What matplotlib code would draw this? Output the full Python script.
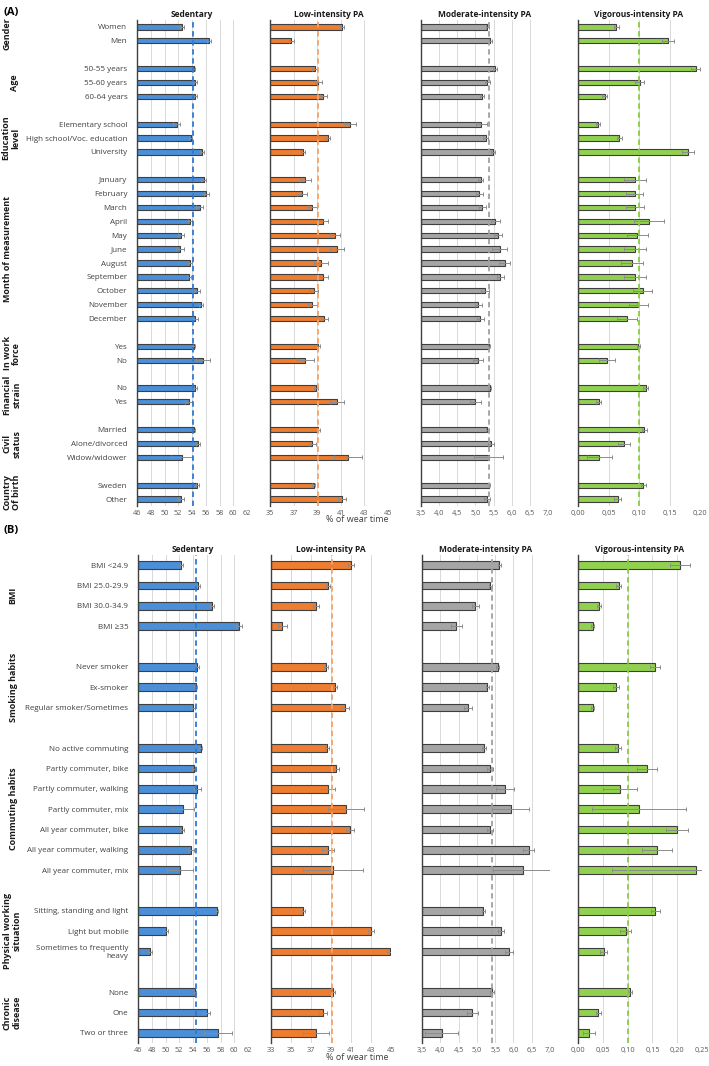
import matplotlib
matplotlib.use("Agg")
import matplotlib.pyplot as plt
import numpy as np

plt.rcParams['font.family'] = ['Open Sans', 'DejaVu Sans']

W, H = 709, 1066

# ---------------- panel A data ----------------
a_labels = ["Women", "Men", "",
            "50-55 years", "55-60 years", "60-64 years", "",
            "Elementary school", "High school/Voc. education", "University", "",
            "January", "February", "March", "April", "May", "June", "August",
            "September", "October", "November", "December", "",
            "Yes", "No", "",
            "No", "Yes", "",
            "Married", "Alone/divorced", "Widow/widower", "",
            "Sweden", "Other"]
a_groups = [("Gender", 0, 1, 7), ("Age", 3, 5, 15), ("Education\nlevel", 7, 9, 11),
            ("Month of measurement", 11, 21, 8), ("In work\nforce", 23, 24, 12),
            ("Financial\nstrain", 26, 27, 12), ("Civil\nstatus", 29, 31, 12),
            ("Country\nOf birth", 33, 34, 12)]

a_sed = [52.5, 56.5, None, 54.3, 54.4, 54.4, None, 51.8, 53.8, 55.5, None,
         55.7, 56.1, 55.1, 53.7, 52.4, 52.3, 53.7, 53.6, 54.7, 55.3, 54.5, None,
         54.3, 55.6, None, 54.5, 53.5, None, 54.3, 54.9, 52.5, None, 54.8, 52.4]
a_sed_err = [0.3, 0.3, 0, 0.2, 0.3, 0.3, 0, 0.5, 0.2, 0.3, 0,
             0.4, 0.4, 0.5, 0.3, 0.4, 0.6, 0.3, 0.3, 0.4, 0.3, 0.4, 0,
             0.15, 1.0, 0, 0.2, 0.5, 0, 0.2, 0.3, 1.5, 0, 0.2, 0.4]
a_low = [41.1, 36.8, None, 38.8, 39.1, 39.5, None, 41.8, 39.9, 37.8, None,
         38.0, 37.7, 38.6, 39.5, 40.5, 40.7, 39.3, 39.5, 38.7, 38.6, 39.6, None,
         39.1, 38.0, None, 38.9, 40.7, None, 39.1, 38.6, 41.6, None, 38.7, 41.1]
a_low_err = [0.2, 0.2, 0, 0.2, 0.3, 0.3, 0, 0.5, 0.2, 0.2, 0,
             0.5, 0.4, 0.4, 0.4, 0.4, 0.6, 0.6, 0.4, 0.4, 0.4, 0.3, 0,
             0.15, 0.7, 0, 0.15, 0.6, 0, 0.15, 0.3, 1.2, 0, 0.15, 0.3]
a_mod = [5.33, 5.40, None, 5.54, 5.33, 5.19, None, 5.16, 5.28, 5.49, None,
         5.14, 5.11, 5.19, 5.55, 5.62, 5.67, 5.81, 5.69, 5.26, 5.08, 5.13, None,
         5.38, 5.07, None, 5.40, 5.00, None, 5.33, 5.44, 5.37, None, 5.38, 5.33]
a_mod_err = [0.05, 0.05, 0, 0.06, 0.06, 0.06, 0, 0.15, 0.06, 0.05, 0,
             0.08, 0.1, 0.1, 0.12, 0.12, 0.2, 0.15, 0.1, 0.12, 0.1, 0.1, 0,
             0.03, 0.15, 0, 0.04, 0.15, 0, 0.04, 0.08, 0.4, 0, 0.03, 0.08]
a_vig = [0.063, 0.147, None, 0.193, 0.101, 0.044, None, 0.033, 0.068, 0.180, None,
         0.093, 0.093, 0.094, 0.116, 0.097, 0.093, 0.089, 0.093, 0.106, 0.099, 0.080, None,
         0.099, 0.047, None, 0.111, 0.034, None, 0.109, 0.075, 0.035, None, 0.107, 0.065]
a_vig_err = [0.004, 0.01, 0, 0.007, 0.008, 0.004, 0, 0.003, 0.004, 0.01, 0,
             0.018, 0.014, 0.015, 0.025, 0.017, 0.018, 0.018, 0.018, 0.016, 0.015, 0.016, 0,
             0.003, 0.013, 0, 0.004, 0.004, 0, 0.004, 0.01, 0.02, 0, 0.004, 0.006]

# ---------------- panel B data ----------------
b_labels = ["BMI <24.9", "BMI 25.0-29.9", "BMI 30.0-34.9", "BMI \u226535", "",
            "Never smoker", "Ex-smoker", "Regular smoker/Sometimes", "",
            "No active commuting", "Partly commuter, bike", "Partly commuter, walking",
            "Partly commuter, mix", "All year commuter, bike", "All year commuter, walking",
            "All year commuter, mix", "",
            "Sitting, standing and light", "Light but mobile",
            "Sometimes to frequently\nheavy", "",
            "None", "One", "Two or three"]
b_groups = [("BMI", 0, 3, 13), ("Smoking habits", 5, 7, 14),
            ("Commuting habits", 9, 15, 14), ("Physical working\nsituation", 17, 19, 12),
            ("Chronic\ndisease", 21, 23, 12)]

b_sed = [52.3, 54.8, 56.7, 60.7, None, 54.6, 54.4, 54.0, None,
         55.1, 54.1, 54.6, 52.5, 52.4, 53.7, 52.1, None,
         57.5, 50.0, 47.7, None, 54.3, 56.0, 57.6]
b_sed_err = [0.2, 0.2, 0.3, 0.4, 0, 0.2, 0.2, 0.3, 0,
             0.2, 0.3, 0.5, 1.6, 0.3, 0.4, 1.9, 0,
             0.15, 0.3, 0.3, 0, 0.15, 0.5, 2.0]
b_low = [41.0, 38.7, 37.5, 34.1, None, 38.5, 39.4, 40.4, None,
         38.6, 39.5, 38.7, 40.5, 40.9, 38.7, 39.2, None,
         36.2, 43.0, 44.9, None, 39.2, 38.2, 37.5]
b_low_err = [0.3, 0.2, 0.3, 0.45, 0, 0.2, 0.2, 0.4, 0,
             0.2, 0.3, 0.7, 1.8, 0.4, 0.6, 3.0, 0,
             0.15, 0.3, 0.3, 0, 0.2, 0.4, 1.3]
b_mod = [5.61, 5.37, 4.96, 4.44, None, 5.57, 5.29, 4.76, None,
         5.20, 5.36, 5.77, 5.92, 5.36, 6.42, 6.25, None,
         5.18, 5.67, 5.88, None, 5.42, 4.88, 4.04]
b_mod_err = [0.04, 0.05, 0.1, 0.15, 0, 0.04, 0.05, 0.1, 0,
             0.05, 0.08, 0.25, 0.5, 0.08, 0.15, 0.8, 0,
             0.04, 0.08, 0.1, 0, 0.05, 0.15, 0.45]
b_vig = [0.206, 0.082, 0.042, 0.030, None, 0.155, 0.076, 0.030, None,
         0.080, 0.139, 0.085, 0.123, 0.200, 0.159, 0.238, None,
         0.156, 0.096, 0.052, None, 0.105, 0.041, 0.023]
b_vig_err = [0.02, 0.005, 0.004, 0.003, 0, 0.01, 0.006, 0.003, 0,
             0.006, 0.02, 0.034, 0.095, 0.022, 0.03, 0.17, 0,
             0.009, 0.011, 0.007, 0, 0.004, 0.005, 0.012]

titles = ["Sedentary", "Low-intensity PA", "Moderate-intensity PA", "Vigorous-intensity PA"]
colors = ["#4A8FD8", "#ED7D31", "#A5A5A5", "#92D050"]
dash_colors = ["#2F78D2", "#F5A26A", "#A0A0A0", "#8CCB45"]

fig = plt.figure(figsize=(W / 100, H / 100), dpi=100)


def px_axes(left, right, top, bottom):
    return fig.add_axes([left / W, 1 - bottom / H, (right - left) / W, (bottom - top) / H])


def fmt(v, dec):
    return ("{:.%df}" % dec).format(v).replace(".", ",")


def draw_panel(top, bottom, labels, groups, series, boxes, means, ticks, decs, title_y):
    n = len(labels)
    y = np.arange(n)
    rowh = (bottom - top) / n
    for k in range(4):
        vals, errs = series[k]
        l, r = boxes[k]
        ax = px_axes(l, r, top, bottom)
        idx = [i for i, v in enumerate(vals) if v is not None]
        v = np.array([vals[i] for i in idx])
        e = np.array([errs[i] for i in idx])
        x0 = ticks[k][0]
        ax.barh(y[idx], v - x0, left=x0, height=0.38, color=colors[k],
                edgecolor="#3F3F3F", linewidth=0.8, zorder=3)
        ax.errorbar(v, y[idx], xerr=e, fmt="none", ecolor="#8C8C8C",
                    elinewidth=0.7, capsize=1.3, capthick=0.7, zorder=4)
        ax.axvline(means[k], color=dash_colors[k], ls=(0, (3, 2)), lw=1.3, zorder=5)
        ax.set_xlim(ticks[k][0], ticks[k][-1])
        ax.set_ylim(n - 0.5, -0.5)
        ax.set_xticks(ticks[k])
        ax.set_xticklabels([fmt(t, decs[k]) for t in ticks[k]], fontsize=5.3, color="#595959")
        ax.grid(axis="x", color="#D9D9D9", lw=0.7, zorder=0)
        ax.tick_params(axis="x", length=0, pad=3)
        for s in ["top", "right", "bottom"]:
            ax.spines[s].set_visible(False)
        ax.spines["left"].set_color("#404040")
        ax.spines["left"].set_linewidth(1.0)
        ax.spines["left"].set_zorder(6)
        if k == 0:
            ax.set_yticks(y)
            ax.set_yticklabels(labels, fontsize=5.8, color="#404040", ha="right")
            ax.tick_params(axis="y", length=0, pad=7)
        else:
            ax.set_yticks([])
        ax.set_facecolor("none")
        ax.set_title(titles[k], fontsize=6, fontweight="bold", color="#1A1A1A", pad=2)
    for name, g0, g1, gx in groups:
        yc = top + rowh * ((g0 + g1) / 2 + 0.5)
        fig.text(gx / W, 1 - yc / H, name, rotation=90, ha="center", va="center",
                 fontsize=6.5, fontweight="bold", color="#1A1A1A", linespacing=1.1)


sed_ticks = list(range(46, 63, 2))
mod_ticks = list(np.arange(3.5, 7.01, 0.5))

draw_panel(20, 506, a_labels, a_groups,
           [(a_sed, a_sed_err), (a_low, a_low_err), (a_mod, a_mod_err), (a_vig, a_vig_err)],
           [(137, 247), (270, 388), (421, 548), (578, 700)],
           [54.2, 39.1, 5.38, 0.10],
           [sed_ticks, list(range(35, 46, 2)), mod_ticks, list(np.arange(0, 0.201, 0.05))],
           [0, 0, 1, 2], 18)

draw_panel(555, 1043, b_labels, b_groups,
           [(b_sed, b_sed_err), (b_low, b_low_err), (b_mod, b_mod_err), (b_vig, b_vig_err)],
           [(138, 248), (271, 391), (422, 550), (578, 702)],
           [54.5, 39.1, 5.41, 0.10],
           [sed_ticks, list(range(33, 46, 2)), mod_ticks, list(np.arange(0, 0.251, 0.05))],
           [0, 0, 1, 2], 550)

fig.text(3 / W, 1 - 12 / H, "(A)", fontsize=8, fontweight="bold", va="center")
fig.text(3 / W, 1 - 531 / H, "(B)", fontsize=8, fontweight="bold", va="center")
fig.text(357 / W, 1 - 520 / H, "% of wear time", fontsize=6.5, color="#404040", ha="center", va="center")
fig.text(357 / W, 1 - 1058 / H, "% of wear time", fontsize=6.5, color="#404040", ha="center", va="center")

fig.savefig("out.png", dpi=100)
